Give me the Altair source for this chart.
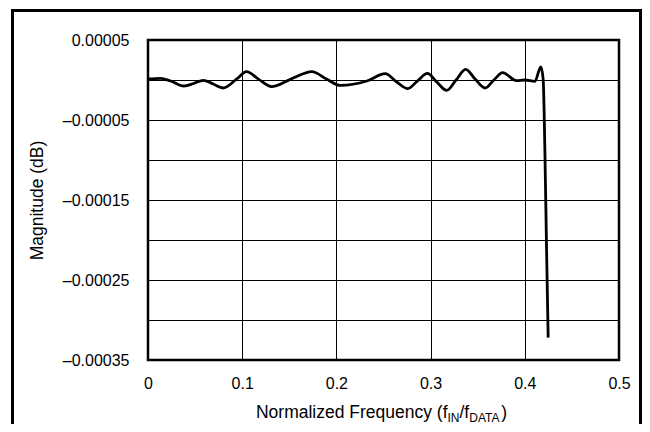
import altair as alt
import pandas as pd

# ---- data ----
freq = [0.0, 0.0134, 0.024, 0.0381, 0.0487, 0.0586, 0.0692, 0.0798, 0.0946, 0.1045,
        0.1176, 0.131, 0.1511, 0.174, 0.19, 0.2041, 0.2323, 0.2518, 0.2641, 0.2758,
        0.286, 0.2966, 0.3065, 0.3171, 0.327, 0.3372, 0.3475, 0.3577, 0.3672, 0.3764,
        0.3912, 0.4001, 0.4107, 0.417, 0.4195, 0.4213, 0.4231, 0.4248]
mag_micro_db = [1.25, 2.1, -1.25, -7.5, -4.2, -0.4, -5.0, -10.0, 1.7, 10.4,
                0.8, -8.3, 0.8, 10.4, 0.8, -6.7, -1.25, 7.9, -2.5, -10.8,
                -1.25, 8.3, -2.5, -12.9, 0.0, 13.3, 0.8, -10.0, 0.0, 9.2,
                -0.8, 0.0, -1.7, 16.25, 0.8, -86.6, -211.6, -322.0]

x_ticks = [0, 0.1, 0.2, 0.3, 0.4, 0.5]
y_grid = [0.00005, 0.0, -0.00005, -0.0001, -0.00015, -0.0002, -0.00025, -0.0003, -0.00035]

x_title_parts = ["Normalized Frequency (f", "IN", "/f", "DATA", ")"]
x_title_is_sub = [False, True, False, True, False]
y_title = "Magnitude (dB)"

df = pd.DataFrame({"freq": freq, "mag": [v * 1e-6 for v in mag_micro_db]})

W, H = 471, 320
FONT = "Liberation Sans"

y_label_expr = ("abs(round(datum.value*100000)) % 10 == 5 ? "
                "((datum.value < 0 ? '\u2013' : '') + format(abs(datum.value), '.5f')) : ''")
x_label_expr = "datum.value == 0 ? '0' : format(datum.value, '.1f')"

line = alt.Chart(df).mark_line(color="black", strokeWidth=2.8, interpolate="monotone").encode(
    x=alt.X("freq:Q",
            scale=alt.Scale(domain=[0, 0.5], nice=False, zero=False),
            axis=alt.Axis(values=x_ticks, labelExpr=x_label_expr, title=None,
                          grid=True, gridColor="black", gridWidth=1, gridOpacity=1,
                          ticks=False, tickSize=0, domain=False, labelPadding=15,
                          labelFontSize=16, labelColor="black", labelFont=FONT,
                          labelFlush=False, labelOverlap=False, labelBound=False)),
    y=alt.Y("mag:Q",
            scale=alt.Scale(domain=[-0.00035, 0.00005], nice=False, zero=False),
            axis=alt.Axis(values=y_grid, labelExpr=y_label_expr, title=y_title,
                          grid=True, gridColor="black", gridWidth=1, gridOpacity=1,
                          ticks=False, tickSize=0, domain=False, labelPadding=19,
                          labelFontSize=16, labelColor="black", labelFont=FONT,
                          labelFlush=False, labelOverlap=False, labelBound=False,
                          titleFont=FONT, titleFontSize=17.5, titleFontWeight="normal",
                          titleColor="black", titleX=-105.5, titleY=160,
                          titleAlign="center", titleBaseline="alphabetic", titleAngle=270)),
)

# x axis title with subscripts, laid out with Helvetica-compatible metrics
widths = {'N': 722, 'o': 556, 'r': 333, 'm': 833, 'a': 556, 'l': 222, 'i': 222, 'z': 500,
          'e': 556, 'd': 556, ' ': 278, 'F': 611, 'q': 556, 'u': 556, 'n': 556, 'c': 500,
          'y': 500, '(': 333, 'f': 278, 'I': 278, '/': 278, 'D': 722, 'A': 667, 'T': 611,
          ')': 333}
MAIN_FS, SUB_FS = 17.5, 12
sizes = [SUB_FS if s else MAIN_FS for s in x_title_is_sub]
seg_w = [sum(widths[c] for c in t) / 1000 * fs for t, fs in zip(x_title_parts, sizes)]
center_x = 233.5
base_y = 378
cur = center_x - sum(seg_w) / 2
title_layers = []
blank = pd.DataFrame({"k": [0]})
for t, fs, sub, w in zip(x_title_parts, sizes, x_title_is_sub, seg_w):
    title_layers.append(
        alt.Chart(blank).mark_text(text=t, font=FONT, fontSize=fs, color="black",
                                   align="left", baseline="alphabetic").encode(
            x=alt.value(cur), y=alt.value(base_y + (4 if sub else 0)))
    )
    cur += w

frame = alt.Chart(blank).mark_rect(fillOpacity=0, stroke="black", strokeWidth=3).encode(
    x=alt.value(-135.5), x2=alt.value(492.5), y=alt.value(-29.5), y2=alt.value(420)
)

chart = alt.layer(line, frame, *title_layers).properties(
    width=W, height=H,
    autosize=alt.AutoSizeParams(type="none"),
    padding={"left": 140, "top": 32, "right": 23, "bottom": 64},
    background="white",
).configure_view(stroke="black", strokeWidth=2.5)

chart.save("out.html", embed_options={"renderer": "svg", "actions": False})
